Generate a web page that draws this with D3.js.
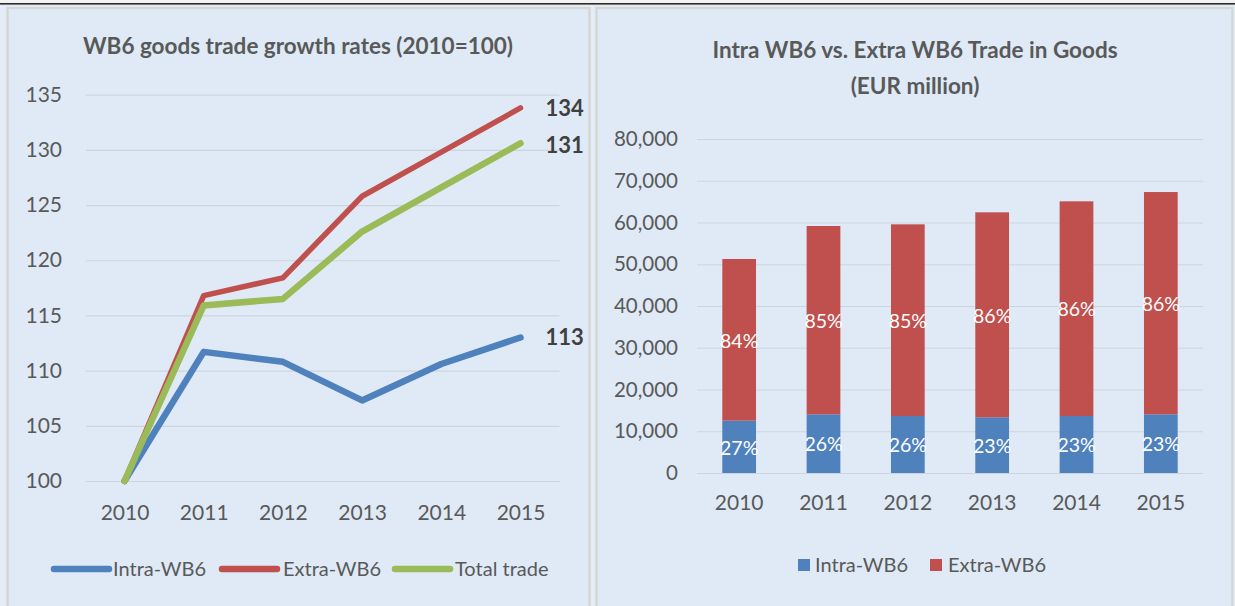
<!DOCTYPE html>
<html><head><meta charset="utf-8">
<script src="https://cdn.jsdelivr.net/npm/d3@7"></script>
<style>
html,body{margin:0;padding:0;background:#e4edf7;}
svg{display:block;font-family:Lato,"Open Sans",sans-serif;}
</style></head><body>
<svg id="c" width="1235" height="606"></svg>
<script>
// ---- data ----
const years = ["2010","2011","2012","2013","2014","2015"];
const intraIdx = [100, 111.7, 110.8, 107.3, 110.6, 113.0];
const extraIdx = [100, 116.8, 118.4, 125.8, 129.8, 133.8];
const totalIdx = [100, 115.9, 116.5, 122.6, 126.6, 130.6];
const endLabels = ["113", "134", "131"];
const lineSeriesNames = ["Intra-WB6", "Extra-WB6", "Total trade"];
const leftTicks = [100,105,110,115,120,125,130,135];

const intraVal = [12530, 14060, 13650, 13340, 13650, 14060];
const extraVal = [38730, 45100, 45910, 49100, 51420, 53240];
const intraPct = ["27%","26%","26%","23%","23%","23%"];
const extraPct = ["84%","85%","85%","86%","86%","86%"];
const rightTicks = [0,10000,20000,30000,40000,50000,60000,70000,80000];
const barSeriesNames = ["Intra-WB6","Extra-WB6"];

const C = {blue:"#4f81bd", red:"#c0504d", green:"#9bbb59", text:"#595959", grid:"#ccd5df", bg:"#dfeaf6", border:"#d6d6d6"};

const svg = d3.select("#c");
// top rule
svg.append("rect").attr("x",0).attr("y",0).attr("width",1235).attr("height",3).attr("fill","#f2f2f2");
svg.append("rect").attr("x",0).attr("y",3).attr("width",1235).attr("height",1.6).attr("fill","#2b2b2b");
// panels
svg.append("rect").attr("x",7.5).attr("y",8).attr("width",582).attr("height",610)
  .attr("fill",C.bg).attr("stroke",C.border).attr("stroke-width",2.5);
svg.append("rect").attr("x",596.5).attr("y",8).attr("width",636).attr("height",610)
  .attr("fill",C.bg).attr("stroke",C.border).attr("stroke-width",2.5);

// ---------- left chart ----------
const L = svg.append("g");
const x1 = d3.scalePoint().domain(years).range([124.5, 520.5]);
const y1 = d3.scaleLinear().domain([100,135]).range([481, 94.7]);

L.append("text").attr("x",298).attr("y",54).attr("text-anchor","middle")
  .attr("font-size",22.5).attr("font-weight","bold").attr("fill",C.text)
  .text("WB6 goods trade growth rates (2010=100)");

const yAx1 = L.append("g").attr("transform","translate(86,0)")
  .call(d3.axisLeft(y1).tickValues(leftTicks).tickSize(-473.5).tickPadding(24).tickFormat(d3.format("d")));
yAx1.select(".domain").remove();
yAx1.selectAll("line").attr("stroke",C.grid).attr("stroke-width",1.2);
yAx1.selectAll("text").attr("fill",C.text).attr("font-size",21).attr("font-family","Lato");

const xAx1 = L.append("g").attr("transform","translate(0,481)")
  .call(d3.axisBottom(x1).tickSize(0).tickPadding(24));
xAx1.select(".domain").remove();
xAx1.selectAll("text").attr("fill",C.text).attr("font-size",21).attr("font-family","Lato");

const lineGen = d3.line().x((d,i)=>x1(years[i])).y(d=>y1(d));
const lineData = [
  {vals:intraIdx, color:C.blue, w:6.5},
  {vals:extraIdx, color:C.red, w:5.5},
  {vals:totalIdx, color:C.green, w:6.5}
];
lineData.forEach(s=>{
  L.append("path").datum(s.vals).attr("d",lineGen).attr("fill","none")
   .attr("stroke",s.color).attr("stroke-width",s.w).attr("stroke-linejoin","round").attr("stroke-linecap","round");
});
lineData.forEach((s,i)=>{
  L.append("text").attr("x",x1("2015")+25).attr("y",y1(s.vals[5])+ (i===2?2:0)).attr("dy","0.35em")
   .attr("font-size",22).attr("font-weight","bold").attr("fill","#404040").text(endLabels[i]);
});

// legend left
const legL = [{x:54,tx:113},{x:222,tx:283},{x:395,tx:455}];
lineData.forEach((s,i)=>{
  L.append("line").attr("x1",legL[i].x).attr("x2",legL[i].x+55).attr("y1",569).attr("y2",569)
   .attr("stroke",s.color).attr("stroke-width",6.5).attr("stroke-linecap","round");
  L.append("text").attr("x",legL[i].tx).attr("y",569).attr("dy","0.35em")
   .attr("font-size",20).attr("fill",C.text).text(lineSeriesNames[i]);
});

// ---------- right chart ----------
const R = svg.append("g");
const x2 = d3.scaleBand().domain(years).range([697,1203]).paddingInner(0.6).paddingOuter(0.3);
const y2 = d3.scaleLinear().domain([0,80000]).range([473,139]);

R.append("text").attr("x",915).attr("y",58).attr("text-anchor","middle")
  .attr("font-size",22.5).attr("font-weight","bold").attr("fill",C.text)
  .text("Intra WB6 vs. Extra WB6 Trade in Goods");
R.append("text").attr("x",915).attr("y",94).attr("text-anchor","middle")
  .attr("font-size",22.5).attr("font-weight","bold").attr("fill",C.text)
  .text("(EUR million)");

const yAx2 = R.append("g").attr("transform","translate(697,0)")
  .call(d3.axisLeft(y2).tickValues(rightTicks).tickSize(-506).tickPadding(19).tickFormat(d3.format(",")));
yAx2.select(".domain").remove();
yAx2.selectAll("line").attr("stroke",C.grid).attr("stroke-width",1.2);
yAx2.selectAll("text").attr("fill",C.text).attr("font-size",20.5).attr("font-family","Lato");

const xAx2 = R.append("g").attr("transform","translate(0,473)")
  .call(d3.axisBottom(x2).tickSize(0).tickPadding(22));
xAx2.select(".domain").remove();
xAx2.selectAll("text").attr("fill",C.text).attr("font-size",21).attr("font-family","Lato");

const stackData = years.map((y,i)=>({year:y, intra:intraVal[i], extra:extraVal[i]}));
const stack = d3.stack().keys(["intra","extra"])(stackData);
const barColors = [C.blue, C.red];
const pctLabels = [intraPct, extraPct];
stack.forEach((layer,k)=>{
  R.append("g").selectAll("rect").data(layer).join("rect")
   .attr("x",d=>x2(d.data.year)).attr("width",x2.bandwidth())
   .attr("y",d=>y2(d[1])).attr("height",d=>y2(d[0])-y2(d[1]))
   .attr("fill",barColors[k]);
  R.append("g").selectAll("text").data(layer).join("text")
   .attr("x",d=>x2(d.data.year)+x2.bandwidth()/2)
   .attr("y",d=>(y2(d[0])+y2(d[1]))/2+1).attr("dy","0.35em")
   .attr("text-anchor","middle").attr("font-size",19.5).attr("fill","#ffffff")
   .text((d,i)=>pctLabels[k][i]);
});

// legend right
const legR = [{x:798,tx:815},{x:930,tx:948}];
barSeriesNames.forEach((n,i)=>{
  R.append("rect").attr("x",legR[i].x).attr("y",559).attr("width",12).attr("height",12).attr("fill",barColors[i]);
  R.append("text").attr("x",legR[i].tx).attr("y",565).attr("dy","0.35em")
   .attr("font-size",20).attr("fill",C.text).text(n);
});
</script>
</body></html>
